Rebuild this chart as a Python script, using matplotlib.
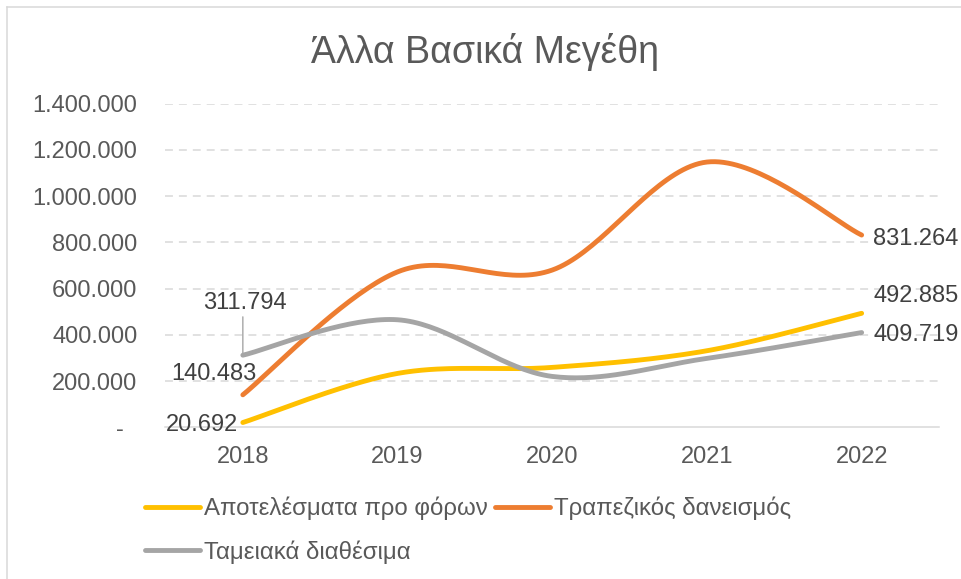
import numpy as np
import matplotlib
matplotlib.use("Agg")
import matplotlib.pyplot as plt
from matplotlib.ticker import FuncFormatter
from matplotlib.lines import Line2D

plt.rcParams['font.family'] = ['Liberation Sans', 'DejaVu Sans']

years = [2018, 2019, 2020, 2021, 2022]
series_names = ["Αποτελέσματα προ φόρων", "Τραπεζικός δανεισμός", "Ταμειακά διαθέσιμα"]
profit = [20692, 233000, 259000, 331000, 492885]
loans = [140483, 672000, 680000, 1147000, 831264]
cash = [311794, 465000, 220000, 298000, 409719]
colors = ["#FFC000", "#ED7D31", "#A5A5A5"]
title = "Άλλα Βασικά Μεγέθη"

TXT = "#595959"
LBL = "#404040"
GRID = "#D9D9D9"


def smooth(xs, ys, n=40):
    xs = np.asarray(xs, float)
    ys = np.asarray(ys, float)
    P = np.column_stack([xs, ys])
    Pe = np.vstack([P[0], P, P[-1]])
    out = []
    for i in range(len(P) - 1):
        p0, p1, p2, p3 = Pe[i], Pe[i + 1], Pe[i + 2], Pe[i + 3]
        c1 = p1 + (p2 - p0) / 6.0
        c2 = p2 - (p3 - p1) / 6.0
        t = np.linspace(0, 1, n)[:, None]
        seg = ((1 - t) ** 3) * p1 + 3 * ((1 - t) ** 2) * t * c1 + 3 * (1 - t) * t ** 2 * c2 + t ** 3 * p2
        if i > 0:
            seg = seg[1:]
        out.append(seg)
    out = np.vstack(out)
    return out[:, 0], out[:, 1]


fig = plt.figure(figsize=(9.61, 5.79), dpi=100)
ax = fig.add_axes([0.1722, 0.262, 0.8049, 0.5592])

xpos = np.arange(len(years))
all_series = [profit, loans, cash]
handles = []
for vals, c, name in zip(all_series, colors, series_names):
    sx, sy = smooth(xpos, vals)
    ln, = ax.plot(sx, sy, color=c, lw=3.5, solid_capstyle='round', solid_joinstyle='round', label=name, zorder=3)
    handles.append(ln)

ax.set_xlim(-0.5, len(years) - 0.5)
ax.set_ylim(0, 1400000)
ax.set_yticks(np.arange(0, 1400001, 200000))
ax.set_xticks(xpos)
ax.set_xticklabels([str(y) for y in years])


def fmt(v, pos):
    if v == 0:
        return "-  "
    return f"{int(round(v)):,}".replace(",", ".")


ax.yaxis.set_major_formatter(FuncFormatter(fmt))
ax.tick_params(axis='both', length=0, labelsize=17, labelcolor=TXT)
ax.tick_params(axis='y', pad=20.3)
ax.tick_params(axis='x', pad=13.5)
for t in ax.get_yticklabels():
    if t.get_text().startswith('-'):
        t.set_y(t.get_position()[1])

for s in ['top', 'right', 'left']:
    ax.spines[s].set_visible(False)
ax.spines['bottom'].set_color(GRID)
ax.spines['bottom'].set_linewidth(1.1)

for yv in np.arange(200000, 1400001, 200000):
    gl = ax.axhline(yv, color=GRID, lw=1.1, zorder=1)
    gl.set_dashes([5.2, 3.9])

# data labels
def lab(i, vals, dx, dy, ha):
    ax.annotate(f"{vals[i]:,}".replace(",", "."), xy=(xpos[i], vals[i]), xytext=(dx, dy),
                textcoords='offset points', ha=ha, va='baseline', fontsize=17, color=LBL, zorder=5)

lab(0, cash, 1.7, 33.5, 'center')
ax.annotate('', xy=(xpos[0], cash[0]), xytext=(0, 27.6), textcoords='offset points',
            arrowprops=dict(arrowstyle='-', color='#A6A6A6', lw=1.0, shrinkA=0, shrinkB=1.5))
lab(0, loans, -20.7, 10.5, 'center')
lab(0, profit, -3.4, -6.3, 'right')
lab(4, loans, 8.4, -6.9, 'left')
lab(4, profit, 8.4, 8.2, 'left')
lab(4, cash, 8.4, -6.3, 'left')

fig.text(0.505, 1 - 62.7 / 579, title, ha='center', va='baseline', fontsize=27, color=TXT)

# column-wise fill: col1 = profit, cash ; col2 = loans  -> reads row-wise like the reference
leg_handles = [handles[0], handles[2], handles[1]]
leg = fig.legend(handles=leg_handles, loc='upper left', bbox_to_anchor=(0.1509, 1 - 497 / 579), ncol=2,
                 frameon=False, fontsize=17.3, labelcolor=TXT, handlelength=2.28, handletextpad=0.17,
                 columnspacing=0.3, borderpad=0, borderaxespad=0, labelspacing=0.82)

# chart border (top and left edges)
fig.add_artist(Line2D([7.3 / 961, 1.0], [1 - 6.7 / 579, 1 - 6.7 / 579], transform=fig.transFigure, color=GRID, lw=1.1))
fig.add_artist(Line2D([7.3 / 961, 7.3 / 961], [0, 1 - 6.7 / 579], transform=fig.transFigure, color=GRID, lw=1.1))

fig.savefig("out.png", dpi=100)
